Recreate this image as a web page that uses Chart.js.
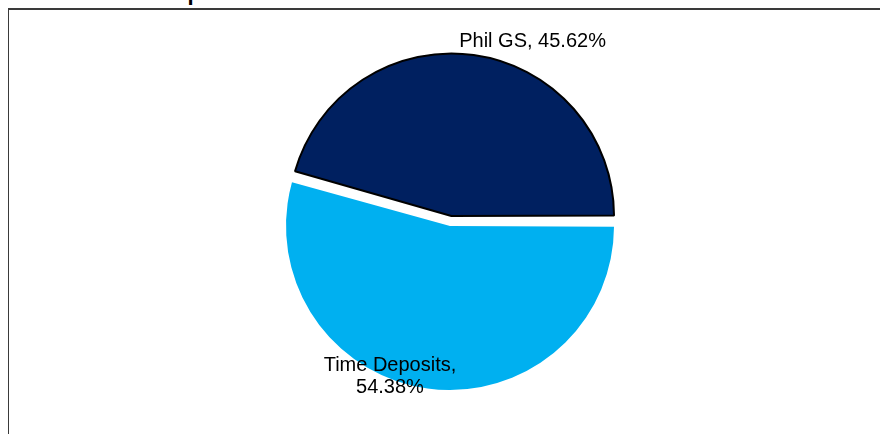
<!DOCTYPE html>
<html>
<head>
<meta charset="utf-8">
<script src="https://cdn.jsdelivr.net/npm/chart.js@4.4.1/dist/chart.umd.min.js"></script>
<style>
    html, body { margin: 0; padding: 0; background: #fff; overflow: hidden; }
    #wrap { position: relative; width: 880px; height: 434px; overflow: hidden; }
    #frame {
        position: absolute; left: 8px; top: 8px; width: 900px; height: 460px;
        border-left: 1px solid #3a3a3a; border-top: 2px solid #3a3a3a; box-sizing: border-box;
    }
    #title {
        position: absolute; left: 42px; top: -18px; margin: 0;
        font: bold 22px "Liberation Sans", Arial, sans-serif; line-height: 22px; color: #000;
        white-space: nowrap;
    }
    #chart { position: absolute; left: 0; top: 0; }
</style>
</head>
<body>
<div id="wrap">
    <div id="frame"></div>
    <p id="title">Portfolio Composition</p>
    <canvas id="chart" width="880" height="434"></canvas>
</div>
<script>
const categorias = ['Time Deposits', 'Phil GS'];
const percentuais = [54.38, 45.62];
const cores = ['#00b0f0', '#002060'];

// posição dos rótulos (giro em graus a partir do meio da fatia, distância relativa ao raio)
const rotulosLayout = [
    { giro: 13.4, dist: 1.052, quebra: true },
    { giro: 16.6, dist: 1.242, quebra: false }
];

const rotulosPlugin = {
    id: 'rotulos',
    afterDatasetsDraw(chart) {
        const ctx = chart.ctx;
        const meta = chart.getDatasetMeta(0);
        ctx.save();
        ctx.font = '20px "Liberation Sans", Arial, sans-serif';
        ctx.fillStyle = '#000';
        ctx.textAlign = 'center';
        ctx.textBaseline = 'middle';
        meta.data.forEach((arc, i) => {
            const { x, y, startAngle, endAngle, outerRadius } = arc.getProps(['x', 'y', 'startAngle', 'endAngle', 'outerRadius'], true);
            const layout = rotulosLayout[i];
            const ang = (startAngle + endAngle) / 2 + layout.giro * Math.PI / 180;
            const lx = x + Math.cos(ang) * outerRadius * layout.dist;
            const ly = y + Math.sin(ang) * outerRadius * layout.dist;
            const valor = `${percentuais[i].toFixed(2)}%`;
            const linhas = layout.quebra ? [`${categorias[i]},`, valor] : [`${categorias[i]}, ${valor}`];
            const alturaLinha = 22;
            const topo = ly - (linhas.length - 1) * alturaLinha / 2;
            linhas.forEach((linha, j) => ctx.fillText(linha, lx, topo + j * alturaLinha));
        });
        ctx.restore();
    }
};

new Chart(document.getElementById('chart'), {
    type: 'pie',
    data: {
        labels: categorias,
        datasets: [{
            data: percentuais,
            backgroundColor: cores,
            borderColor: ['#ffffff', '#000000'],
            borderWidth: [0, 2],
            // o Chart.js v4 desenha o deslocamento dividido por 4 e soma ao raio
            offset: [20, 20],
            hoverOffset: 0
        }]
    },
    options: {
        responsive: false,
        animation: false,
        rotation: 90,
        radius: 159,
        layout: { padding: { left: 21.4, top: 8, right: 0, bottom: 0 } },
        plugins: {
            legend: { display: false },
            tooltip: { enabled: false }
        }
    },
    plugins: [rotulosPlugin]
});
</script>
</body>
</html>
